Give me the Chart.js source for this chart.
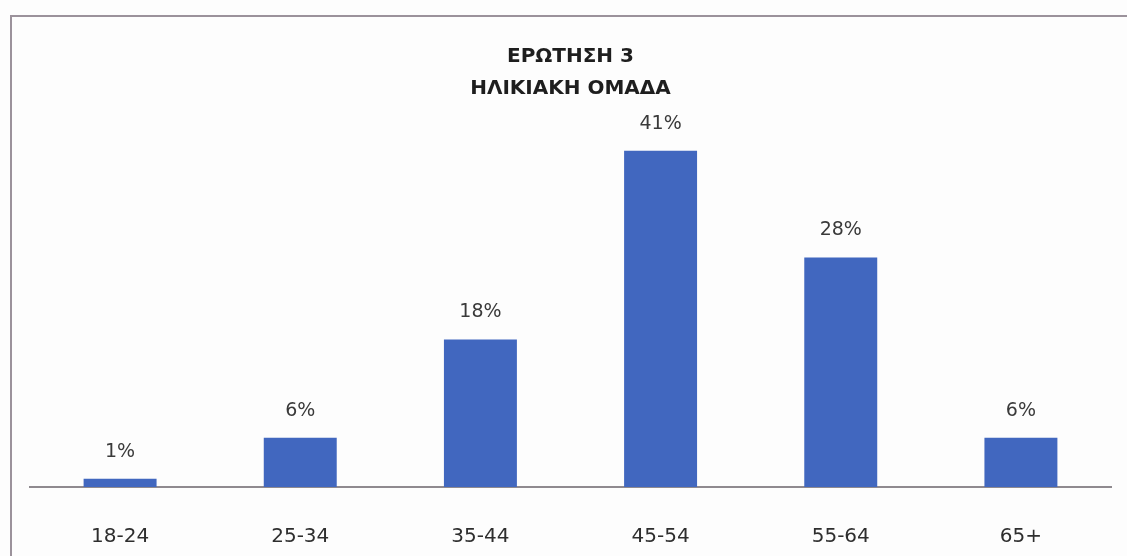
<!DOCTYPE html>
<html>
<head>
<meta charset="utf-8">
<script src="https://cdn.jsdelivr.net/npm/chart.js@4/dist/chart.umd.min.js"></script>
<style>
  html, body { margin: 0; padding: 0; background: #fdfdfd; }
  #wrap { position: relative; width: 1127px; height: 556px; }
  #frame {
    position: absolute; left: 10px; top: 15px; right: 0; bottom: 0;
    border-top: 2px solid #9b929b; border-left: 2px solid #9b929b;
    pointer-events: none;
  }
  canvas { position: absolute; left: 0; top: 0; }
</style>
</head>
<body>
<div id="wrap">
  <canvas id="ageChart" width="1127" height="556"></canvas>
  <div id="frame"></div>
</div>
<script>
const titleLines = ["ΕΡΩΤΗΣΗ 3", "ΗΛΙΚΙΑΚΗ ΟΜΑΔΑ"];
const ageGroups = ["18-24", "25-34", "35-44", "45-54", "55-64", "65+"];
const percentValues = [1, 6, 18, 41, 28, 6];

// value labels above each bar
const barLabels = {
  id: "barLabels",
  afterDatasetsDraw(chart) {
    const ctx = chart.ctx;
    const meta = chart.getDatasetMeta(0);
    ctx.save();
    ctx.font = "19px 'DejaVu Sans'";
    ctx.fillStyle = "#3a3a3a";
    ctx.textAlign = "center";
    ctx.textBaseline = "middle";
    meta.data.forEach((bar, i) => {
      ctx.fillText(percentValues[i] + "%", bar.x, bar.y - 27);
    });
    ctx.restore();
  }
};

const ctx = document.getElementById("ageChart").getContext("2d");
new Chart(ctx, {
  type: "bar",
  data: {
    labels: ageGroups,
    datasets: [{
      data: percentValues,
      backgroundColor: "#4167bf",
      borderWidth: 0,
      categoryPercentage: 1,
      barPercentage: 0.405,
    }],
  },
  options: {
    responsive: false,
    animation: false,
    layout: { padding: { left: 30, right: 16, top: 0, bottom: 0 } },
    plugins: {
      legend: { display: false },
      tooltip: { enabled: false },
      title: {
        display: true,
        text: titleLines,
        color: "#1e1e1e",
        font: { family: "'DejaVu Sans'", size: 20, weight: "bold", lineHeight: 1.6 },
        padding: { top: 41, bottom: 13 },
      },
    },
    scales: {
      x: {
        grid: { display: false, drawTicks: false },
        border: { display: true, color: "#8f8a8f", width: 2 },
        ticks: {
          color: "#2e2e2e",
          padding: 38,
          font: { family: "'DejaVu Sans'", size: 20 },
        },
        afterFit(scale) { scale.height = 69; },
      },
      y: {
        display: false,
        min: 0,
        max: 45,
      },
    },
  },
  plugins: [barLabels],
});
</script>
</body>
</html>
